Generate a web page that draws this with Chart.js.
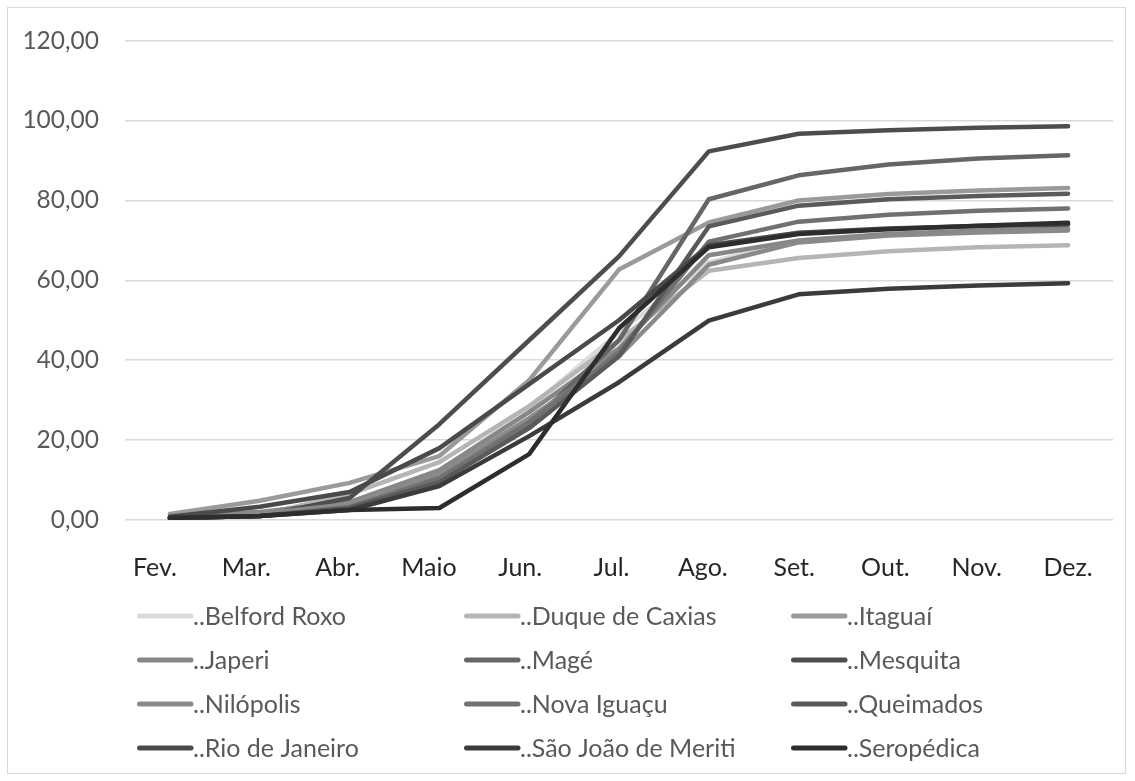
<!DOCTYPE html>
<html lang="pt-BR">
<head>
<meta charset="utf-8">
<title>Evolução acumulada por município</title>
<script src="https://cdn.jsdelivr.net/npm/chart.js@4.4.1/dist/chart.umd.min.js"></script>
<style>
  html, body { margin: 0; padding: 0; background: #ffffff; }
  #wrap { position: relative; width: 1135px; height: 781px; }
  #frame { position: absolute; left: 7px; top: 7px; width: 1119px; height: 767px;
           border: 1.5px solid #d9d9d9; box-sizing: border-box; pointer-events: none; }
  canvas { position: absolute; left: 0; top: 0; }
</style>
</head>
<body>
<div id="wrap">
  <canvas id="chart" width="1135" height="781"></canvas>
  <div id="frame"></div>
</div>
<script>
// Meses (eixo X)
const months = ['Fev.', 'Mar.', 'Abr.', 'Maio', 'Jun.', 'Jul.', 'Ago.', 'Set.', 'Out.', 'Nov.', 'Dez.'];

// Marcas do eixo Y
const yTicks = [0, 20, 40, 60, 80, 100, 120];

// Nomes das séries, na ordem da legenda
const seriesNames = ['..Belford Roxo', '..Duque de Caxias', '..Itaguaí', '..Japeri', '..Magé', '..Mesquita',
                     '..Nilópolis', '..Nova Iguaçu', '..Queimados', '..Rio de Janeiro', '..São João de Meriti', '..Seropédica'];

// Valores acumulados por município
const belfordRoxo   = [0.5, 1.0, 3.5, 12.0, 28.0, 47.0, 64.5, 70.0, 71.6, 72.3, 72.8];
const duqueDeCaxias = [0.6, 1.2, 6.5, 14.5, 28.5, 45.0, 62.4, 65.6, 67.3, 68.3, 68.8];
const itaguai       = [1.5, 4.8, 9.3, 16.0, 35.0, 62.7, 74.5, 80.0, 81.6, 82.5, 83.1];
const japeri        = [1.0, 2.0, 4.5, 12.5, 27.0, 43.0, 66.3, 70.0, 71.6, 72.5, 72.9];
const mage          = [0.5, 1.0, 3.0, 10.0, 24.0, 45.0, 80.3, 86.3, 89.0, 90.5, 91.3];
const mesquita      = [0.5, 1.0, 5.5, 24.0, 45.0, 66.0, 92.3, 96.7, 97.6, 98.2, 98.6];
const nilopolis     = [0.8, 1.5, 4.0, 11.5, 25.5, 41.0, 63.9, 69.5, 71.2, 72.0, 72.5];
const novaIguacu    = [0.5, 1.0, 3.2, 10.5, 24.5, 42.0, 69.7, 74.7, 76.4, 77.4, 78.0];
const queimados     = [0.5, 1.0, 3.0, 9.5, 23.0, 41.0, 73.5, 78.7, 80.3, 81.1, 81.7];
const rioDeJaneiro  = [0.8, 3.3, 7.0, 18.0, 34.0, 50.0, 68.8, 71.9, 73.0, 73.6, 74.0];
const saoJoao       = [0.5, 1.0, 2.5, 8.5, 21.0, 34.5, 49.9, 56.5, 57.9, 58.7, 59.3];
const seropedica    = [0.5, 1.0, 2.5, 3.0, 16.5, 48.0, 68.3, 71.6, 72.8, 73.7, 74.4];

const seriesValues = [belfordRoxo, duqueDeCaxias, itaguai, japeri, mage, mesquita,
                      nilopolis, novaIguacu, queimados, rioDeJaneiro, saoJoao, seropedica];

// Tons de cinza de cada série
const seriesColors = ['#dadada', '#b5b5b5', '#9a9a9a', '#878787', '#666666', '#4d4d4d',
                      '#8a8a8a', '#717171', '#5a5a5a', '#4a4a4a', '#3b3b3b', '#2d2d2d'];

const FONT = 'Lato, "Open Sans", sans-serif';
const PLOT_LEFT = 125, PLOT_RIGHT = 1113, PLOT_TOP = 37, PLOT_BOTTOM = 520;

const fmt = v => v.toFixed(2).replace('.', ',');

// Legenda em três colunas desenhada no canvas
const gridLegend = {
  id: 'gridLegend',
  afterDraw(chart) {
    const ctx = chart.ctx;
    const colX = [137, 464, 791];
    const rowY = [616, 660, 704, 748];
    ctx.save();
    ctx.font = '25px ' + FONT;
    ctx.textBaseline = 'middle';
    ctx.textAlign = 'left';
    chart.data.datasets.forEach((ds, i) => {
      const x = colX[i % 3], y = rowY[Math.floor(i / 3)];
      ctx.strokeStyle = ds.borderColor;
      ctx.lineWidth = 5;
      ctx.lineCap = 'round';
      ctx.beginPath();
      ctx.moveTo(x + 2.5, y);
      ctx.lineTo(x + 54, y);
      ctx.stroke();
      ctx.fillStyle = '#595959';
      ctx.fillText(ds.label, x + 56, y + 1);
    });
    ctx.restore();
  }
};

new Chart(document.getElementById('chart'), {
  type: 'line',
  data: {
    labels: months,
    datasets: seriesNames.map((name, i) => ({
      label: name,
      data: seriesValues[i],
      borderColor: seriesColors[i],
      backgroundColor: seriesColors[i],
      borderWidth: 4.5,
      borderCapStyle: 'round',
      borderJoinStyle: 'round',
      pointRadius: 0,
      tension: 0,
      order: -i
    }))
  },
  options: {
    responsive: false,
    animation: false,
    events: [],
    layout: { padding: { left: 0, top: PLOT_TOP, right: 1135 - PLOT_RIGHT, bottom: 0 } },
    plugins: { legend: { display: false }, tooltip: { enabled: false } },
    scales: {
      // eixo das categorias que posiciona as linhas
      x: {
        offset: true,
        grid: { display: false, drawTicks: false },
        border: { display: false },
        ticks: { display: false },
        afterFit: s => { s.height = 0; }
      },
      // rótulos dos meses, um pouco mais espaçados que os pontos
      xMonths: {
        type: 'linear',
        position: 'bottom',
        min: -0.3286,
        max: 10.4925,
        afterBuildTicks: s => { s.ticks = months.map((m, i) => ({ value: i })); },
        grid: { display: false, drawTicks: false },
        border: { display: false },
        ticks: { color: '#262626', font: { family: FONT, size: 25 }, padding: 33, maxRotation: 0, autoSkip: false,
                 callback: v => months[v] },
        afterFit: s => { s.height = 781 - PLOT_BOTTOM; }
      },
      y: {
        min: 0, max: 120,
        afterBuildTicks: s => { s.ticks = yTicks.map(v => ({ value: v })); },
        grid: { color: '#d9d9d9', lineWidth: 1.5, drawTicks: false },
        border: { display: false },
        ticks: { color: '#595959', font: { family: FONT, size: 24.5 }, padding: 26, callback: v => fmt(v) },
        afterFit: s => { s.width = PLOT_LEFT; }
      }
    }
  },
  plugins: [gridLegend]
});
</script>
</body>
</html>
